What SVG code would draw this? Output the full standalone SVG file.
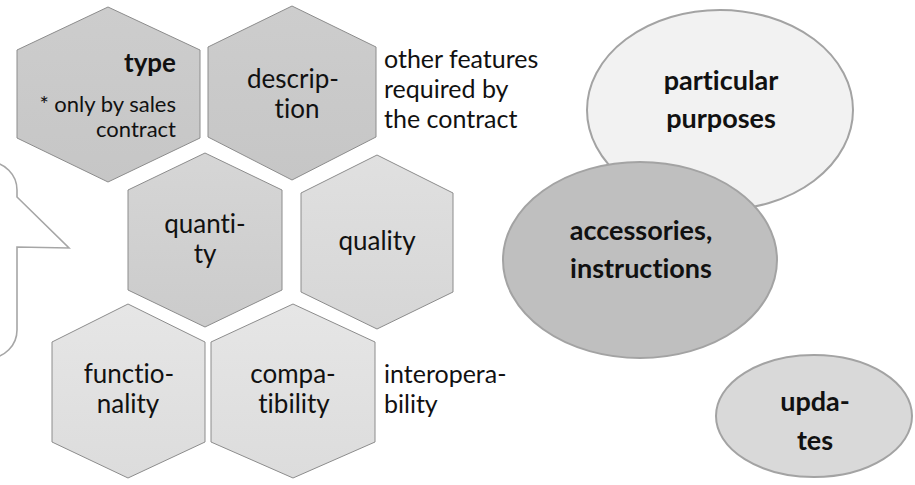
<svg xmlns="http://www.w3.org/2000/svg" width="915" height="485" viewBox="0 0 915 485">
  <defs>
    <linearGradient id="gDark" x1="0" y1="0" x2="0" y2="1">
      <stop offset="0" stop-color="#cdcdcd"/>
      <stop offset="1" stop-color="#c6c6c6"/>
    </linearGradient>
    <linearGradient id="gMid" x1="0" y1="0" x2="0" y2="1">
      <stop offset="0" stop-color="#d6d6d6"/>
      <stop offset="1" stop-color="#cbcbcb"/>
    </linearGradient>
    <linearGradient id="gLight" x1="0" y1="0" x2="0" y2="1">
      <stop offset="0" stop-color="#e0e0e0"/>
      <stop offset="1" stop-color="#d6d6d6"/>
    </linearGradient>
    <linearGradient id="gPale" x1="0" y1="0" x2="0" y2="1">
      <stop offset="0" stop-color="#e6e6e6"/>
      <stop offset="1" stop-color="#dcdcdc"/>
    </linearGradient>
  </defs>
  <style>
    .hex { stroke: #8c8c8c; stroke-width: 1; }
    .oval { stroke: #a3a3a3; stroke-width: 2; }
    .t { font-family: Lato, "Open Sans", "Liberation Sans", sans-serif; fill: #111;
         font-variant-ligatures: none; font-feature-settings: "liga" 0, "clig" 0; }
    .lbl { font-size: 26px; text-anchor: middle; }
    .side { font-size: 25px; }
    .small { font-size: 22px; text-anchor: end; }
    .bold { font-size: 27px; font-weight: bold; text-anchor: middle; }
  </style>

  <rect width="915" height="485" fill="#ffffff"/>

  <!-- speech-bubble callout, cut off at the left edge -->
  <g id="callout">
    <path d="M -40 162 L -11 162 A 28 28 0 0 1 17 190 L 17 197 L 69 248 L 17 247 L 17 330 A 28 28 0 0 1 -11 358 L -40 358 Z"
          fill="#ffffff" stroke="#a6a6a6" stroke-width="1.6"/>
  </g>

  <!-- hexagon cluster -->
  <g id="hex-type">
    <polygon class="hex" fill="url(#gDark)" points="108,7 200,50 200,138 108,182 17,138 17,50"/>
    <text class="t" x="176" y="72" font-size="26" font-weight="bold" text-anchor="end">type</text>
    <text class="t small" x="176" y="112">* only by sales</text>
    <text class="t small" x="176" y="137">contract</text>
  </g>

  <g id="hex-description">
    <polygon class="hex" fill="url(#gDark)" points="292,6 376,47 376,137 292,180 208,137 208,47"/>
    <text class="t lbl" x="293" y="88">descrip-</text>
    <text class="t lbl" x="297" y="118">tion</text>
  </g>

  <g id="hex-quantity">
    <polygon class="hex" fill="url(#gMid)" points="205,153 282,190 282,290 205,327 128,290 128,190"/>
    <text class="t lbl" x="205" y="233">quanti-</text>
    <text class="t lbl" x="205" y="263">ty</text>
  </g>

  <g id="hex-quality">
    <polygon class="hex" fill="url(#gLight)" points="377,155 453,193 453,292 377,329 301,292 301,193"/>
    <text class="t lbl" x="377" y="250">quality</text>
  </g>

  <g id="hex-functionality">
    <polygon class="hex" fill="url(#gPale)" points="128,304 205,342 205,442 128,478 52,442 52,342"/>
    <text class="t lbl" x="129" y="383">functio-</text>
    <text class="t lbl" x="128" y="413">nality</text>
  </g>

  <g id="hex-compatibility">
    <polygon class="hex" fill="url(#gPale)" points="293,304 375,342 375,442 293,478 211,442 211,342"/>
    <text class="t lbl" x="293" y="383">compa-</text>
    <text class="t lbl" x="294" y="413">tibility</text>
  </g>

  <!-- free-standing side notes -->
  <g id="note-other-features">
    <text class="t side" x="384" y="68">other features</text>
    <text class="t side" x="384" y="98">required by</text>
    <text class="t side" x="384" y="128">the contract</text>
  </g>

  <g id="note-interoperability">
    <text class="t side" x="384" y="383">interopera-</text>
    <text class="t side" x="384" y="413">bility</text>
  </g>

  <!-- ovals on the right -->
  <g id="oval-purposes">
    <ellipse class="oval" cx="720" cy="110" rx="133" ry="100" fill="#f2f2f2"/>
    <text class="t bold" x="721" y="90">particular</text>
    <text class="t bold" x="721" y="128">purposes</text>
  </g>

  <g id="oval-accessories">
    <ellipse class="oval" cx="640" cy="260" rx="137" ry="98" fill="#bfbfbf"/>
    <text class="t bold" x="641" y="240">accessories,</text>
    <text class="t bold" x="641" y="278">instructions</text>
  </g>

  <g id="oval-updates">
    <ellipse class="oval" cx="814" cy="416" rx="98" ry="61" fill="#d9d9d9"/>
    <text class="t bold" x="815" y="411">upda-</text>
    <text class="t bold" x="815" y="450">tes</text>
  </g>
</svg>
